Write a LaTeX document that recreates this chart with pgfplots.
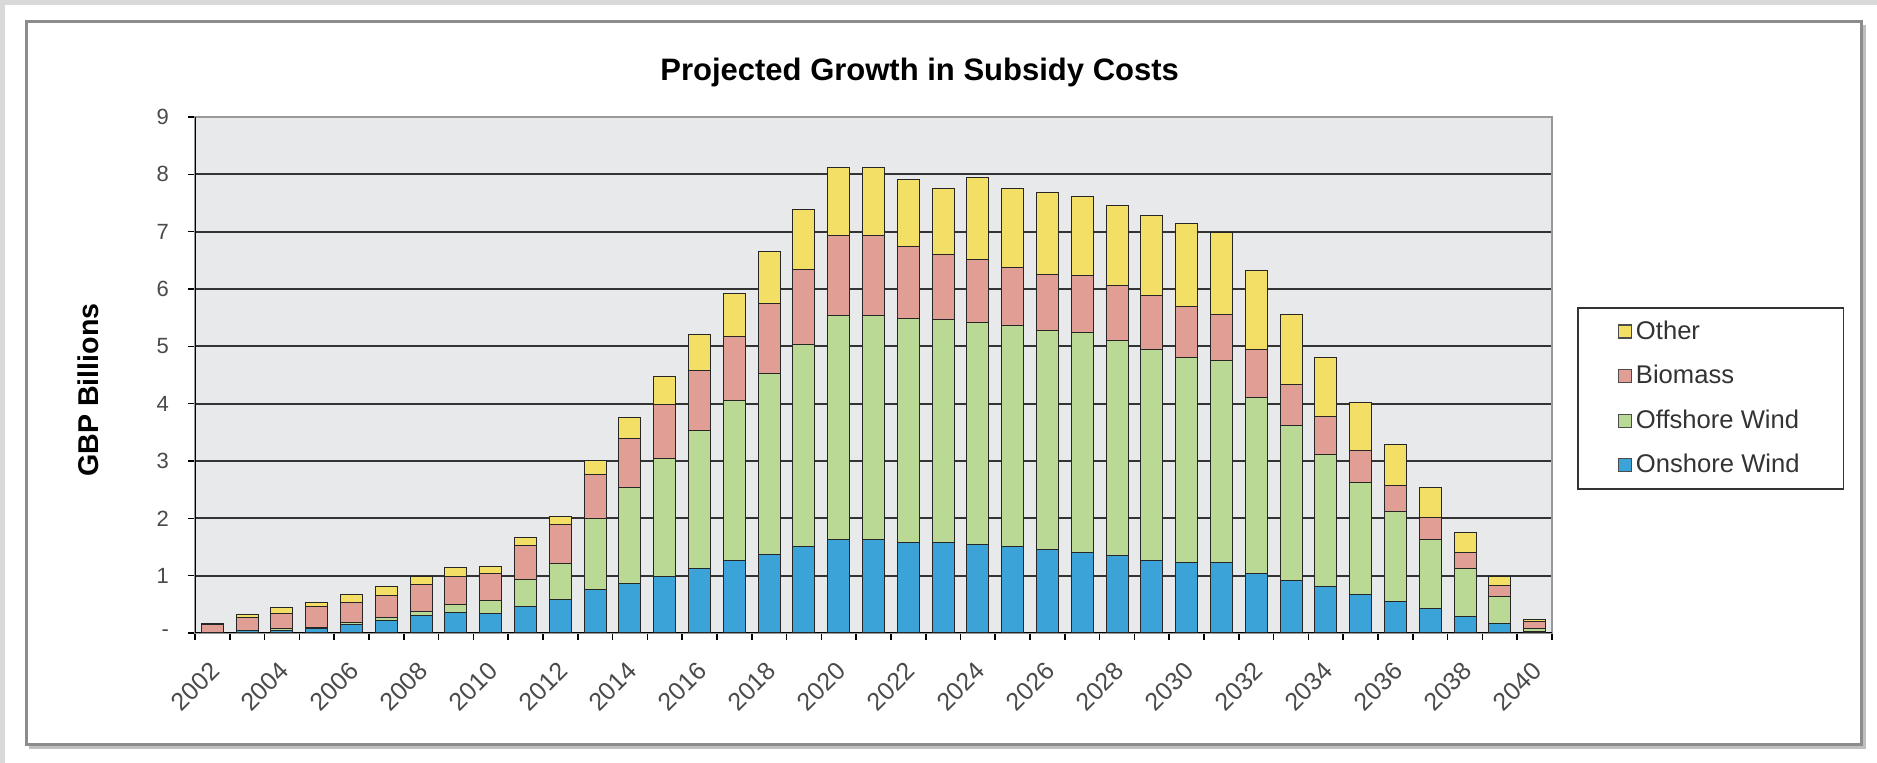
\documentclass[border=0pt]{standalone}
\usepackage{pgfplots}
\pgfplotsset{compat=1.18}
\usepackage{pgfplotstable}
\usepackage{fontspec}
\setmainfont{Liberation Sans}
\definecolor{onshore}{HTML}{3BA3D8}
\definecolor{offshore}{HTML}{B9D995}
\definecolor{biomass}{HTML}{E09E94}
\definecolor{other}{HTML}{F4DF66}
\definecolor{plotbg}{HTML}{E8E9EB}
\definecolor{pagebg}{HTML}{D9D9D9}
\definecolor{framegray}{HTML}{8C8C8C}
\definecolor{ticktext}{HTML}{4A4A4A}
\pgfplotsset{sqlegend/.style={legend image code/.code={\draw[##1, draw=black!70, line width=0.6pt] (0pt,-3.25pt) rectangle (6.5pt,3.25pt);}}}

\pgfplotstableread{
x  on   off  bio  oth
0  0.01 0.00 0.13 0.03
1  0.04 0.01 0.22 0.05
2  0.05 0.02 0.27 0.11
3  0.08 0.02 0.37 0.07
4  0.15 0.04 0.35 0.13
5  0.22 0.05 0.39 0.15
6  0.31 0.06 0.48 0.13
7  0.36 0.14 0.49 0.15
8  0.34 0.22 0.48 0.12
9  0.47 0.47 0.58 0.14
10 0.58 0.64 0.67 0.14
11 0.75 1.24 0.77 0.24
12 0.87 1.66 0.86 0.37
13 0.99 2.05 0.95 0.48
14 1.13 2.41 1.03 0.63
15 1.26 2.79 1.12 0.76
16 1.37 3.16 1.22 0.91
17 1.50 3.53 1.31 1.05
18 1.63 3.90 1.40 1.19
19 1.63 3.90 1.40 1.19
20 1.58 3.90 1.26 1.17
21 1.57 3.90 1.14 1.15
22 1.54 3.88 1.09 1.44
23 1.50 3.87 1.00 1.39
24 1.46 3.82 0.98 1.42
25 1.41 3.83 0.99 1.38
26 1.35 3.76 0.95 1.39
27 1.27 3.67 0.95 1.39
28 1.23 3.57 0.90 1.44
29 1.23 3.52 0.81 1.43
30 1.04 3.07 0.83 1.38
31 0.92 2.70 0.72 1.22
32 0.81 2.31 0.65 1.03
33 0.68 1.94 0.56 0.84
34 0.55 1.57 0.46 0.70
35 0.42 1.21 0.38 0.52
36 0.28 0.85 0.28 0.35
37 0.17 0.46 0.19 0.16
38 0.03 0.05 0.12 0.04
}\datatable

\begin{document}
\begin{tikzpicture}[x=0.5pt,y=0.5pt]
\fill[pagebg] (0,0) rectangle (1877,763);
\fill[white] (5,0) rectangle (1877,758);
\useasboundingbox (0,0) rectangle (1877,763);
\draw[black!25, line width=1.5pt] (29,15) -- (1864,15) -- (1864,738);
\draw[framegray, line width=1.5pt] (26,18) rectangle (1861,741);
\begin{axis}[
  at={(97.5pt,65pt)}, anchor=south west,
  width=678.5pt, height=258pt, scale only axis,
  xmin=-0.5, xmax=38.5, ymin=0, ymax=9,
  ybar stacked, bar width=11pt,
  axis background/.style={fill=plotbg},
  ymajorgrids, grid style={black!80, line width=0.9pt},
  ytick={0,1,...,9}, yticklabels={-,1,2,3,4,5,6,7,8,9},
  xtick={-0.5,0.5,...,38.5}, xticklabels={},
  extra x ticks={0,2,...,38},
  extra x tick labels={2002,2004,2006,2008,2010,2012,2014,2016,2018,2020,2022,2024,2026,2028,2030,2032,2034,2036,2038,2040},
  extra x tick style={major tick length=0pt, grid=none},
  xtick pos=lower, ytick pos=left,
  tick align=outside, major tick length=3.5pt,
  tick style={black, line width=0.8pt},
  axis line style={black!40, line width=0.8pt},
  /pgf/number format/assume math mode=true,
  tick label style={font=\fontsize{11}{13}\selectfont, text=ticktext},
  yticklabel style={xshift=-6pt},
  x tick label style={xshift=3.7pt, yshift=-14.3pt, rotate=45, anchor=east, font=\fontsize{12.5}{14}\selectfont},
  title={Projected Growth in Subsidy Costs},
  title style={font=\bfseries\fontsize{15.5}{18}\selectfont, at={(axis description cs:0.534,1.064)}, anchor=center},
  ylabel={GBP Billions},
  ylabel style={font=\bfseries\fontsize{14.3}{17}\selectfont, at={(axis description cs:-0.0788,0.471)}, anchor=center},
  every axis plot/.append style={draw=black!85, line width=0.5pt},
  reverse legend,
  legend cell align=left,
  legend style={at={(axis description cs:1.0184,0.6318)}, anchor=north west,
    draw=black!80, line width=0.8pt, fill=white,
    font=\fontsize{12.8}{15}\selectfont, text=black!80,
    row sep=7.5pt, inner xsep=20pt, inner ysep=4.5pt,
    cells={anchor=west, inner ysep=1pt}},
]
\addplot[fill=onshore, sqlegend] table[x=x, y=on] {\datatable};
\addplot[fill=offshore, sqlegend] table[x=x, y=off] {\datatable};
\addplot[fill=biomass, sqlegend] table[x=x, y=bio] {\datatable};
\addplot[fill=other, sqlegend] table[x=x, y=oth] {\datatable};
\legend{Onshore Wind, Offshore Wind, Biomass, Other}
\draw[black, line width=1pt] (rel axis cs:0,0) -- (rel axis cs:0,1);
\draw[black, line width=1pt] (rel axis cs:0,0) -- (rel axis cs:1,0);
\end{axis}
\end{tikzpicture}
\end{document}
